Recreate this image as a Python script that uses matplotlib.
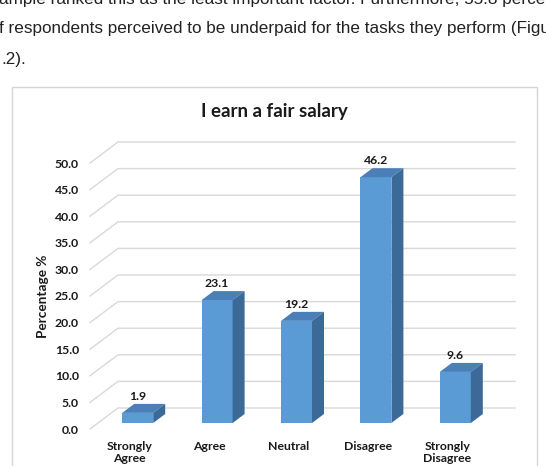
import matplotlib.pyplot as plt
from matplotlib.patches import Polygon, Rectangle

# dados do grafico
categorias = ["Strongly\nAgree", "Agree", "Neutral", "Disagree", "Strongly\nDisagree"]
valores = [1.9, 23.1, 19.2, 46.2, 9.6]
ticks_y = [0, 5, 10, 15, 20, 25, 30, 35, 40, 45, 50]

W, H = 546, 466
fig = plt.figure(figsize=(W / 100, H / 100), dpi=100)

# texto do documento acima do grafico (cortado nas bordas como na captura)
doc = dict(family="Liberation Sans", fontsize=12.3, color="#222222", va="baseline")
fig.text(-0.002, 1 - 4 / H,
         "ample ranked this as the least important factor. Furthermore, 55.8 perce", **doc)
fig.text(-0.002, 1 - 33 / H,
         "f respondents perceived to be underpaid for the tasks they perform (Figur", **doc)
fig.text(0.002, 1 - 64 / H, ".2).", **doc)

# moldura do grafico
fig.patches.append(Rectangle((12 / W, -0.05), (537 - 12) / W, 1 - 87 / H + 0.05,
                             transform=fig.transFigure, fill=False,
                             edgecolor="#d6d6d6", linewidth=1.0))

fig.text(274 / W, 1 - 111 / H, "I earn a fair salary", family="Lato",
         fontweight="bold", fontsize=13.5, ha="center", va="center", color="#1a1a1a")

# eixo: piso frontal de x=90 a 487 px, 0 em y=429 px
ux, uy = 79.4, 5.32            # px por unidade
ax = fig.add_axes([90 / W, 1 - 429 / H, (515 - 90) / W, (429 - 142) / H])
ax.set_xlim(-0.5, -0.5 + 425 / ux)
ax.set_ylim(0, 287 / uy)
for s in ax.spines.values():
    s.set_visible(False)

dxw, dyw = 28 / ux, 21 / uy    # profundidade da parede
grade = "#d9d9d9"
for v in ticks_y:
    ax.plot([-0.5, -0.5 + dxw, 4.5 + dxw], [v, v + dyw, v + dyw],
            color=grade, lw=1, clip_on=False, zorder=1)

ax.set_yticks(ticks_y)
ax.set_yticklabels([f"{v:.1f}" for v in ticks_y])
ax.set_xticks(range(len(categorias)))
ax.set_xticklabels(categorias, linespacing=1.15)
ax.tick_params(length=0)
ax.tick_params(axis="y", pad=8)
ax.tick_params(axis="x", pad=8.5)
for lb in ax.get_yticklabels() + ax.get_xticklabels():
    lb.set_family("Lato")
    lb.set_fontweight("bold")
    lb.set_fontsize(8.8)
    lb.set_color("#1a1a1a")

fig.text(43 / W, 1 - 296 / H, "Percentage %", family="Lato", fontweight="bold",
         fontsize=9.8, rotation=90, ha="center", va="center", color="#1a1a1a")

# barras 3D
f = 0.286
larg = 31 / ux
bx, by = 12 / ux, 9 / uy
frente, topo, lado = "#5b9bd5", "#4a7fb8", "#3b6a98"
xs = [i + f * dxw for i in range(len(valores))]
base = f * dyw
ax.bar(xs, valores, width=larg, bottom=base, color=frente, zorder=3)
for x, v in zip(xs, valores):
    x0, x1 = x - larg / 2, x + larg / 2
    t = base + v
    ax.add_patch(Polygon([(x0, t), (x1, t), (x1 + bx, t + by), (x0 + bx, t + by)],
                         closed=True, facecolor=topo, edgecolor="none", zorder=3))
    ax.add_patch(Polygon([(x1, base), (x1 + bx, base + by), (x1 + bx, t + by), (x1, t)],
                         closed=True, facecolor=lado, edgecolor="none", zorder=3))
    ax.annotate(f"{v:.1f}", (x, t + by), xytext=(0, 1.5), textcoords="offset points",
                ha="center", va="bottom", family="Lato", fontweight="bold",
                fontsize=8.8, color="#1a1a1a", annotation_clip=False)

fig.savefig("out.png", dpi=100)
